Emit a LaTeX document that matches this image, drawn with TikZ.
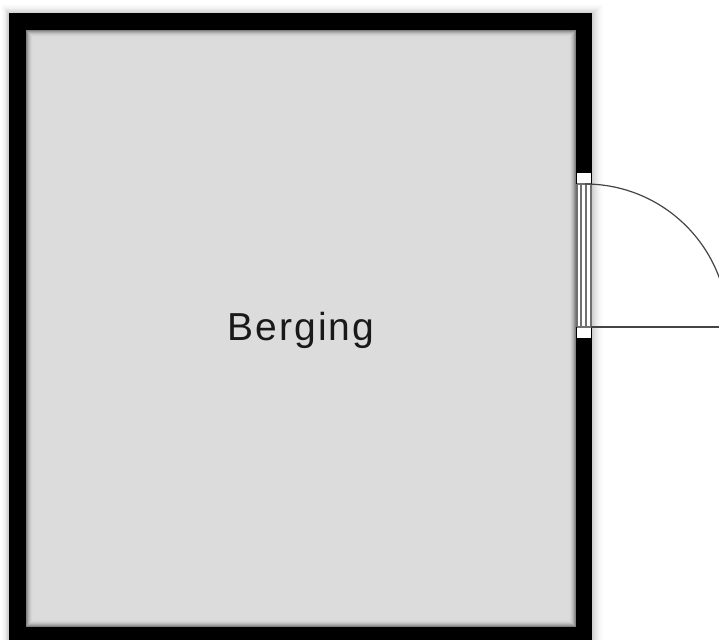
\documentclass[tikz,border=0pt]{standalone}
\usepackage{fontspec}
\setmainfont{Liberation Sans}
\definecolor{roomfill}{HTML}{DCDCDC}
\definecolor{doorline}{HTML}{444444}
\definecolor{jambline}{HTML}{707070}
\tikzset{
  wallfill/.style={fill=black,draw=none},
  jamb/.style={fill=white,draw=none},
  doorstroke/.style={draw=doorline,line width=1.2pt},
  leafstroke/.style={draw=jambline,line width=1.1pt},
  roomlabel/.style={inner sep=0pt,text=black!90,font=\fontsize{39}{39}\selectfont\addfontfeature{LetterSpace=5}}
}
\begin{document}
\begin{tikzpicture}[x=1pt,y=-1pt]
\useasboundingbox (0,0) rectangle (719,639);
\clip (0,0) rectangle (719,639);
\fill[white] (0,0) rectangle (719,639);
% outer soft shadow
\foreach \i in {14,13,...,1}{
  \pgfmathsetmacro{\m}{(14-\i)/14*(14-\i)/14*22}
  \fill[black!\m!white] ({8.5-\i*0.6},{13.5-\i*0.8}) rectangle ({592+\i},650);
}
% walls and floor
\fill[wallfill] (8.5,13.5) rectangle (592,650);
\fill[roomfill] (26,30) rectangle (576,627);
% inner soft shadow
\foreach \i in {0,1,...,7}{
  \pgfmathsetmacro{\m}{(7-\i)/7*(7-\i)/7*42}
  \draw[black!\m!roomfill,line width=1pt] ({26.5+\i},{30.5+\i}) rectangle ({575.5-\i},{626.5-\i});
}
% door opening
\fill[jamb] (577,172.5) rectangle (591,338);
\fill[wallfill] (576,170) rectangle (592,172.5);
\fill[wallfill] (576,338) rectangle (592,341);
% door symbols
\coordinate (hinge) at (585,327);
\coordinate (arcstart) at (585,184);
\coordinate (leafend) at (719,327);
\draw[leafstroke] (577,184) -- (591,184);
\draw[leafstroke] (577,327) -- (591,327);
\foreach \x in {577,581,586,591}{
  \draw[leafstroke] (\x,184) -- (\x,327);
}
\draw[doorstroke] (arcstart) arc[start angle=-90,end angle=0,radius=143];
\draw[doorstroke] (591,327) -- (leafend);
\node[roomlabel] (label) at (301,330) {Berging};
\end{tikzpicture}
\end{document}
